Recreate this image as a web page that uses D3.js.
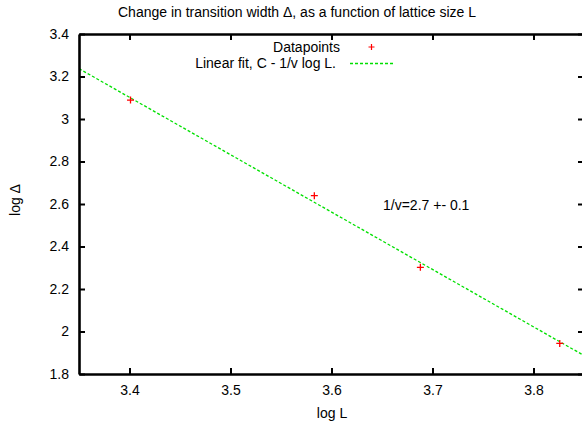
<!DOCTYPE html>
<html>
<head>
<meta charset="utf-8">
<script src="https://cdn.jsdelivr.net/npm/d3@7"></script>
<style>
  html, body { margin: 0; padding: 0; background: #fff; }
  svg text { font-family: "Liberation Sans", Arial, Helvetica, sans-serif; fill: #000; }
</style>
</head>
<body>
<svg id="chart" width="582" height="428"></svg>
<script>
// Measured points: log L vs log Δ
const logL = [3.401, 3.583, 3.688, 3.826];
const logDelta = [3.089, 2.639, 2.302, 1.944];

// Linear fit  log Δ = C - (1/v) log L
const fitC = 12.282;
const fitSlope = 2.7;

const xTicks = [3.4, 3.5, 3.6, 3.7, 3.8];
const yTicks = [1.8, 2, 2.2, 2.4, 2.6, 2.8, 3, 3.2, 3.4];

const titleText = "Change in transition width \u0394, as a function of lattice size L";
const xLabelText = "log L";
const yLabelText = "log \u0394";
const legendLabels = ["Datapoints", "Linear fit, C - 1/v log L."];
const noteText = "1/v=2.7 +- 0.1";

const svg = d3.select("#chart");
const plotLeft = 79, plotRight = 584, plotTop = 34, plotBottom = 374;
const fs = 14;

const x = d3.scaleLinear().domain([3.35, 3.85]).range([plotLeft, plotRight]);
const y = d3.scaleLinear().domain([1.8, 3.4]).range([plotBottom, plotTop]);

const red = "#ff0000";
const green = "#00e000";

// Title
svg.append("text").attr("x", 297).attr("y", 17)
  .attr("text-anchor", "middle").attr("font-size", fs).text(titleText);

// Clip for the plot area
svg.append("clipPath").attr("id", "plotclip")
  .append("rect").attr("x", plotLeft).attr("y", plotTop)
  .attr("width", plotRight - plotLeft).attr("height", plotBottom - plotTop);

// Fit line
const fitLine = d3.line().x(d => x(d)).y(d => y(fitC - fitSlope * d));
svg.append("path").attr("clip-path", "url(#plotclip)")
  .attr("d", fitLine(x.domain()))
  .attr("fill", "none").attr("stroke", green).attr("stroke-width", 1.3)
  .attr("stroke-dasharray", "3,2");

// Data points as + markers
const pts = svg.append("g");
logL.forEach((lx, i) => {
  const px = x(lx), py = y(logDelta[i]);
  pts.append("path")
    .attr("d", `M${px - 3.5},${py}H${px + 3.5}M${px},${py - 3.5}V${py + 3.5}`)
    .attr("stroke", red).attr("stroke-width", 1.3);
});

// Axes with inward ticks, tick labels outside
const xAxisB = d3.axisBottom(x).tickValues(xTicks).tickFormat(d3.format(".1f")).tickSizeInner(-6).tickSizeOuter(0).tickPadding(11);
const xAxisT = d3.axisTop(x).tickValues(xTicks).tickFormat("").tickSizeInner(-6).tickSizeOuter(0);
const yAxisL = d3.axisLeft(y).tickValues(yTicks).tickFormat(d => String(+d.toFixed(1))).tickSizeInner(-6).tickSizeOuter(0).tickPadding(10);
const yAxisR = d3.axisRight(y).tickValues(yTicks).tickFormat("").tickSizeInner(-6).tickSizeOuter(0);

function styleAxis(g) {
  g.select(".domain").attr("stroke", "#000").attr("stroke-width", 2.6);
  g.selectAll(".tick line").attr("stroke", "#000").attr("stroke-width", 2);
  g.selectAll(".tick text").attr("font-size", fs).attr("fill", "#000")
    .style("font-family", "'Liberation Sans', Arial, sans-serif");
}

svg.append("g").attr("transform", `translate(0,${plotBottom})`).call(xAxisB).call(styleAxis);
svg.append("g").attr("transform", `translate(0,${plotTop})`).call(xAxisT).call(styleAxis);
svg.append("g").attr("transform", `translate(${plotLeft},0)`).call(yAxisL).call(styleAxis);
svg.append("g").attr("transform", `translate(${plotRight},0)`).call(yAxisR).call(styleAxis);

// Axis labels
svg.append("text").attr("x", 332).attr("y", 418)
  .attr("text-anchor", "middle").attr("font-size", fs).text(xLabelText);
svg.append("text").attr("transform", "translate(20,200) rotate(-90)")
  .attr("text-anchor", "middle").attr("font-size", fs).text(yLabelText);

// Legend
svg.append("text").attr("x", 340).attr("y", 52)
  .attr("text-anchor", "end").attr("font-size", fs).text(legendLabels[0]);
svg.append("path")
  .attr("d", `M${371.5 - 3},47H${371.5 + 3}M371.5,${47 - 3}V${47 + 3}`)
  .attr("stroke", red).attr("stroke-width", 1.2);
svg.append("text").attr("x", 336).attr("y", 68)
  .attr("text-anchor", "end").attr("font-size", fs).text(legendLabels[1]);
svg.append("line").attr("x1", 350).attr("x2", 393).attr("y1", 63.5).attr("y2", 63.5)
  .attr("stroke", green).attr("stroke-width", 1.3).attr("stroke-dasharray", "3,2");

// Fit annotation
svg.append("text").attr("x", 383).attr("y", 210)
  .attr("font-size", fs).text(noteText);
</script>
</body>
</html>
